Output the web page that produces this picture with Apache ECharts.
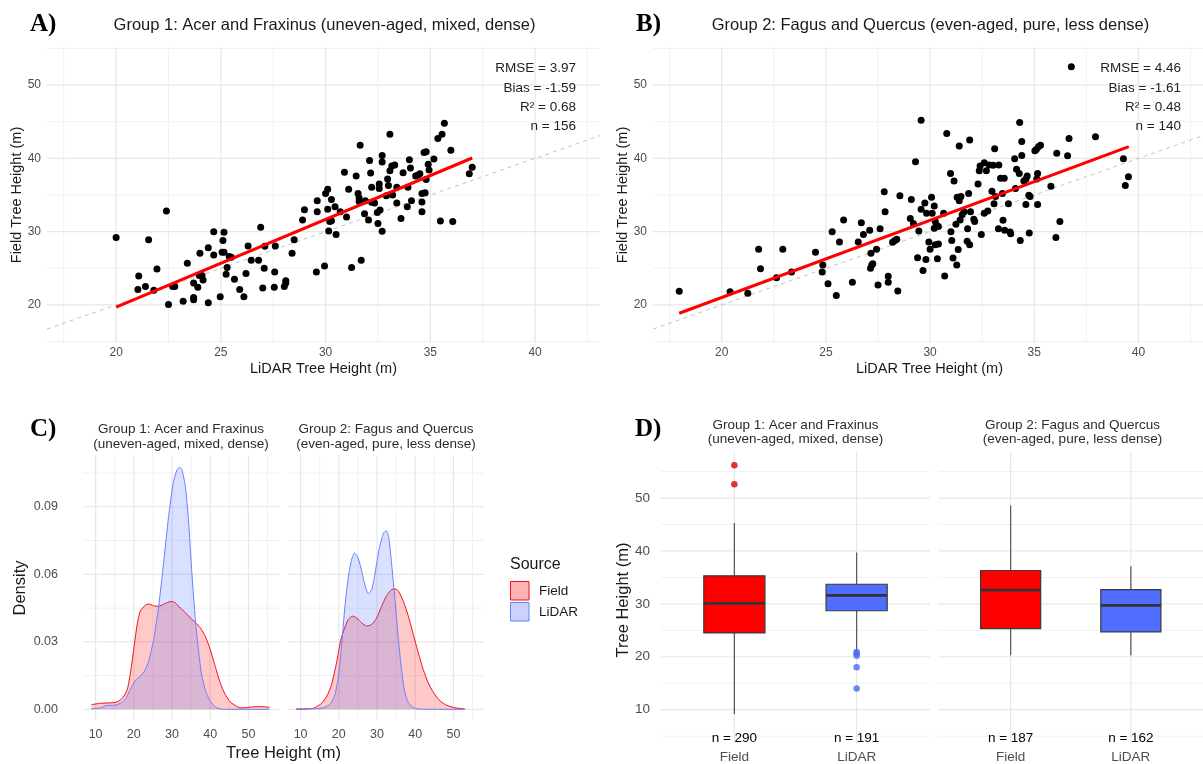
<!DOCTYPE html>
<html><head><meta charset="utf-8">
<script src="https://cdn.jsdelivr.net/npm/echarts@6/dist/echarts.min.js"></script>
<style>html,body{margin:0;padding:0;background:#fff}#c{width:1203px;height:764px}</style>
</head><body><div id="c"></div>
<script>
// ---------------- DATA ----------------
const sourceNames = ['Field', 'LiDAR'];
const groupTitles = ['Group 1: Acer and Fraxinus (uneven-aged, mixed, dense)', 'Group 2: Fagus and Quercus (even-aged, pure, less dense)'];
const stripLine1 = ['Group 1: Acer and Fraxinus', 'Group 2: Fagus and Quercus'];
const stripLine2 = ['(uneven-aged, mixed, dense)', '(even-aged, pure, less dense)'];

// Panel A/B scatter: [LiDAR height, Field height]
const g1Points = [[20.0,29.2],[21.08,23.95],[21.04,22.1],[21.4,22.5],[21.55,28.9],[21.8,22.0],[21.95,24.9],[22.4,32.8],[22.5,20.05],[22.7,22.5],[22.8,22.5],[23.2,20.5],[23.4,25.7],[23.7,21.0],[23.7,20.7],[23.7,23.0],[23.9,22.4],[23.97,24.0],[24.0,27.05],[24.1,24.0],[24.15,23.4],[24.4,27.8],[24.4,20.3],[24.66,30.0],[24.66,26.8],[24.97,21.1],[25.06,27.2],[25.1,28.8],[25.15,29.9],[25.15,27.2],[25.25,24.2],[25.3,25.1],[25.4,26.6],[25.5,26.5],[25.65,23.5],[25.9,22.1],[26.1,21.1],[26.2,24.3],[26.3,28.05],[26.45,26.1],[26.8,26.1],[26.9,30.6],[27.0,22.3],[27.07,25.0],[27.1,28.0],[27.55,22.4],[27.57,24.5],[27.6,28.05],[28.03,22.5],[28.1,23.3],[28.1,23.0],[28.4,27.05],[28.5,28.9],[28.9,31.6],[28.99,33.0],[29.56,24.5],[29.6,34.2],[29.6,32.7],[29.95,25.3],[30.0,35.2],[30.1,33.05],[30.1,35.8],[30.15,30.1],[30.2,31.4],[30.28,31.5],[30.28,34.4],[30.45,33.4],[30.5,29.6],[30.7,32.7],[30.9,38.1],[31.0,32.0],[31.1,35.8],[31.24,25.1],[31.46,37.6],[31.55,35.2],[31.6,34.6],[31.6,34.1],[31.65,41.8],[31.7,26.1],[31.86,32.45],[31.9,34.2],[32.05,31.6],[32.1,39.7],[32.15,38.0],[32.2,36.05],[32.2,34.0],[32.34,33.9],[32.47,32.6],[32.5,31.1],[32.56,36.5],[32.56,35.9],[32.6,32.95],[32.7,40.4],[32.7,39.5],[32.7,30.05],[32.9,34.9],[32.96,37.2],[33.0,36.3],[33.07,43.3],[33.07,38.3],[33.16,38.95],[33.2,35.0],[33.3,39.1],[33.4,33.9],[33.4,36.05],[33.6,31.8],[33.7,38.05],[33.9,33.4],[33.93,36.05],[34.0,39.8],[34.05,38.7],[34.1,34.2],[34.3,37.6],[34.4,37.7],[34.5,37.9],[34.6,34.05],[34.6,32.7],[34.6,35.2],[34.7,40.8],[34.75,35.3],[34.8,40.9],[34.8,37.1],[34.9,39.2],[34.94,38.4],[35.17,39.9],[35.36,42.7],[35.48,31.45],[35.56,43.3],[35.67,44.8],[35.98,41.1],[36.07,31.4],[36.86,37.9],[37.0,38.8]];
const g2Points = [[17.96,21.86],[20.4,21.8],[21.25,21.6],[21.77,27.6],[21.86,24.95],[22.63,23.7],[22.93,27.6],[23.35,24.5],[24.5,27.2],[24.85,25.45],[24.82,24.5],[25.1,22.9],[25.3,30.0],[25.5,21.3],[25.65,28.6],[25.85,31.6],[26.27,23.1],[26.55,28.6],[26.7,31.2],[26.8,29.6],[27.1,30.2],[27.16,27.05],[27.14,25.0],[27.2,25.45],[27.25,25.6],[27.43,27.6],[27.5,22.7],[27.6,30.4],[27.8,35.45],[27.84,32.7],[27.99,23.9],[27.99,23.1],[28.2,28.55],[28.3,28.8],[28.4,28.95],[28.45,21.9],[28.55,34.9],[29.05,31.8],[29.1,34.4],[29.2,31.1],[29.3,39.55],[29.4,26.45],[29.46,30.1],[29.57,45.2],[29.57,33.05],[29.66,24.7],[29.75,33.9],[29.8,26.2],[29.83,32.5],[29.94,28.6],[30.0,27.6],[30.07,34.7],[30.1,32.5],[30.2,33.5],[30.2,30.45],[30.25,28.2],[30.25,31.4],[30.3,30.9],[30.35,26.3],[30.4,28.3],[30.4,30.7],[30.65,32.5],[30.7,23.95],[30.8,43.4],[30.98,37.95],[31.0,30.0],[31.04,28.8],[31.1,26.4],[31.15,36.9],[31.24,31.0],[31.28,25.45],[31.3,34.7],[31.35,27.55],[31.4,34.2],[31.4,41.7],[31.44,31.6],[31.48,34.8],[31.54,32.3],[31.63,32.7],[31.78,28.7],[31.8,30.4],[31.85,35.2],[31.9,28.2],[31.9,42.5],[31.94,32.7],[32.1,31.7],[32.14,31.4],[32.3,36.5],[32.36,38.3],[32.4,38.95],[32.46,29.6],[32.6,39.4],[32.6,32.5],[32.7,38.3],[32.77,32.8],[32.84,39.1],[32.97,35.5],[33.03,39.05],[33.07,33.8],[33.1,41.3],[33.14,34.8],[33.28,30.4],[33.3,39.1],[33.38,37.3],[33.47,35.2],[33.5,31.55],[33.56,37.3],[33.58,30.2],[33.76,33.8],[33.84,29.95],[33.87,29.7],[34.06,39.95],[34.1,35.9],[34.15,38.5],[34.28,37.95],[34.3,44.9],[34.33,28.8],[34.4,42.3],[34.4,40.4],[34.5,36.9],[34.6,37.2],[34.6,33.7],[34.66,37.6],[34.74,34.95],[34.76,29.8],[34.8,34.8],[35.03,41.05],[35.1,41.2],[35.12,37.2],[35.16,37.95],[35.16,33.7],[35.2,41.6],[35.3,41.8],[35.8,36.2],[36.04,29.2],[36.08,40.7],[36.23,31.4],[36.6,40.35],[36.67,42.7],[36.78,52.5],[37.94,42.95],[39.28,39.95],[39.37,36.3],[39.52,37.5]];
const g1Fit = [[20.0,19.7],[37.0,40.05]];
const g2Fit = [[17.96,18.86],[39.54,41.6]];
const g1Stats = ['RMSE = 3.97', 'Bias = -1.59', 'R\u00b2 = 0.68', 'n = 156'];
const g2Stats = ['RMSE = 4.46', 'Bias = -1.61', 'R\u00b2 = 0.48', 'n = 140'];
const scatterXTicks = [20, 25, 30, 35, 40];
const scatterYTicks = [20, 30, 40, 50];

// Panel C densities: [height, density]
const g1FieldDens = [[8.9,0.0021],[11.3,0.0027],[14.8,0.003],[16.1,0.0037],[17.4,0.0059],[18.3,0.0089],[19.1,0.016],[20.0,0.027],[20.9,0.038],[21.7,0.0436],[23.0,0.0463],[23.9,0.0468],[25.2,0.046],[26.5,0.0458],[27.8,0.0467],[29.1,0.0477],[30.0,0.0479],[30.9,0.0473],[32.2,0.045],[33.5,0.043],[34.8,0.0406],[36.1,0.0387],[37.4,0.0362],[38.7,0.0325],[40.0,0.0266],[41.3,0.0192],[42.6,0.0118],[43.9,0.0067],[45.2,0.0034],[46.5,0.0018],[47.8,0.0007],[49.1,0.0007],[50.4,0.001],[52.2,0.0012],[53.9,0.0012],[55.5,0.0009]];
const g1LidarDens = [[8.9,0.0003],[11.3,0.0007],[13.0,0.0018],[14.8,0.0018],[16.5,0.0027],[17.8,0.0044],[19.1,0.0089],[20.4,0.0129],[21.7,0.0148],[22.8,0.017],[23.9,0.0214],[25.2,0.031],[26.5,0.0458],[27.8,0.065],[29.1,0.0857],[30.3,0.1005],[31.3,0.1064],[32.0,0.1075],[32.6,0.1064],[33.5,0.099],[34.3,0.0842],[35.2,0.0606],[36.1,0.04],[37.0,0.0251],[37.8,0.0148],[39.1,0.0067],[40.4,0.0027],[41.7,0.0007],[43.0,0.0001],[48.0,0.0],[55.5,0.0]];
const g2FieldDens = [[8.9,0.0],[12.9,0.0003],[14.2,0.0012],[15.5,0.0027],[16.8,0.0056],[18.1,0.011],[19.4,0.0207],[20.5,0.0307],[21.4,0.0355],[22.5,0.04],[23.6,0.0414],[24.7,0.0406],[26.0,0.0384],[27.3,0.037],[28.6,0.0377],[29.9,0.0406],[31.2,0.0458],[32.5,0.0505],[33.8,0.0532],[34.7,0.0535],[35.6,0.0525],[36.9,0.048],[38.2,0.0414],[39.5,0.0333],[40.8,0.0251],[42.1,0.0177],[43.4,0.0118],[44.8,0.0074],[46.5,0.0037],[48.3,0.0018],[50.4,0.0007],[53.0,0.0002]];
const g2LidarDens = [[8.9,0.0003],[13.3,0.0003],[15.9,0.0007],[17.7,0.0022],[19.0,0.0067],[19.9,0.0148],[20.7,0.028],[21.6,0.0458],[22.5,0.059],[23.4,0.0668],[24.1,0.0695],[24.9,0.068],[25.8,0.0628],[26.7,0.0562],[27.7,0.0514],[28.6,0.0532],[29.5,0.0606],[30.5,0.0709],[31.7,0.0783],[32.4,0.0794],[33.1,0.0761],[33.8,0.065],[34.7,0.0488],[35.6,0.031],[36.5,0.0163],[37.3,0.0074],[38.2,0.003],[39.5,0.0007],[41.3,0.0001],[53.0,0.0]];
const densityXTicks = [10, 20, 30, 40, 50];
const densityYTicks = [0, 0.03, 0.06, 0.09];

// Panel D boxplots: [lower whisker, Q1, median, Q3, upper whisker] for Field, LiDAR
const g1Boxes = [[9.2, 24.5, 30.1, 35.3, 45.3], [21.3, 28.7, 31.6, 33.7, 39.7]];
const g2Boxes = [[20.3, 25.3, 32.6, 36.3, 48.6], [20.3, 24.7, 29.7, 32.7, 37.1]];
const g1FieldOutliers = [56.2, 52.6];
const g1LidarOutliers = [20.9, 20.6, 20.2, 18.0, 14.0];
const g2FieldOutliers = [];
const g2LidarOutliers = [];
const g1Counts = [290, 191];
const g2Counts = [187, 162];
const countLabelY = 5;
const boxYTicks = [10, 20, 30, 40, 50];

// ---------------- STYLE / LAYOUT ----------------
const FONT = "'Liberation Sans', Arial, sans-serif";
const SERIF = "'Liberation Serif', 'Times New Roman', serif";
const RED = '#FF0000', BLUE = '#4F6EFF';
const sourceColors = [RED, BLUE];
const SX = [16.7, 43.1], SY = [14.8, 55.2];
const DX = [6.7, 58.0], DY = [-0.0045, 0.113];
const BX = [-0.6, 1.6], BY = [3.7, 58.7];

const grids = [
  {left: 47, top: 47, width: 553, height: 296},      // A
  {left: 653, top: 47, width: 553, height: 296},     // B
  {left: 83, top: 455, width: 196, height: 264.5},   // C1
  {left: 288, top: 455, width: 196, height: 264.5},  // C2
  {left: 661, top: 452, width: 269, height: 297},    // D1
  {left: 938.5, top: 452, width: 268, height: 297}   // D2
];

function inTicks(ticks, v) { return ticks.some(t => Math.abs(t - v) < 1e-9); }
function valAxis(gi, range, ticks, fmt, fs, margin, show) {
  return {
    type: 'value', gridIndex: gi, min: range[0], max: range[1],
    axisLine: {show: false}, axisTick: {show: false}, splitLine: {show: false},
    axisLabel: {show: show, customValues: ticks, formatter: v => inTicks(ticks, v) ? fmt(v) : '',
      color: '#4d4d4d', fontSize: fs, fontFamily: FONT, margin: margin, hideOverlap: false}
  };
}
function minorsOf(ticks, range) {
  const s = ticks[1] - ticks[0];
  const out = ticks.map(t => t - s / 2).concat([ticks[ticks.length - 1] + s / 2]);
  return out.filter(v => v >= range[0] && v <= range[1]);
}
function gridSeries(gi, xr, yr, xMaj, xMin, yMaj, yMin) {
  const out = [];
  const mk = (pts, minor) => ({
    type: 'line', xAxisIndex: gi, yAxisIndex: gi, data: pts, symbol: 'none', silent: true, z: 0,
    animation: false, lineStyle: {color: minor ? '#f1f1f1' : '#e7e7e7', width: minor ? 1 : 1.2}
  });
  xMin.forEach(v => out.push(mk([[v, yr[0]], [v, yr[1]]], true)));
  yMin.forEach(v => out.push(mk([[xr[0], v], [xr[1], v]], true)));
  xMaj.forEach(v => out.push(mk([[v, yr[0]], [v, yr[1]]], false)));
  yMaj.forEach(v => out.push(mk([[xr[0], v], [xr[1], v]], false)));
  return out;
}

const xAxes = [], yAxes = [], series = [];
// A, B
[0, 1].forEach(gi => {
  xAxes.push(valAxis(gi, SX, scatterXTicks, v => String(v), 12, 4, true));
  yAxes.push(valAxis(gi, SY, scatterYTicks, v => String(v), 12, 6, true));
  series.push(...gridSeries(gi, SX, SY, scatterXTicks, minorsOf(scatterXTicks, SX), scatterYTicks, minorsOf(scatterYTicks, SY)));
  series.push({type: 'line', name: 'identity', xAxisIndex: gi, yAxisIndex: gi, data: [[SX[0], SX[0]], [SX[1], SX[1]]],
    symbol: 'none', silent: true, z: 2, lineStyle: {color: '#c4c4c4', width: 1, type: [4, 4]}});
  series.push({type: 'scatter', name: 'points', xAxisIndex: gi, yAxisIndex: gi, data: gi === 0 ? g1Points : g2Points,
    symbolSize: 7, itemStyle: {color: '#000', opacity: 1}, z: 3});
  series.push({type: 'line', name: 'fit', xAxisIndex: gi, yAxisIndex: gi, data: gi === 0 ? g1Fit : g2Fit,
    symbol: 'none', z: 4, lineStyle: {color: RED, width: 3}});
});
// C
[2, 3].forEach((gi, k) => {
  xAxes.push(valAxis(gi, DX, densityXTicks, v => String(v), 12.5, 9, true));
  yAxes.push(valAxis(gi, DY, densityYTicks, v => v.toFixed(2), 12.5, 25, k === 0));
  series.push(...gridSeries(gi, DX, DY, densityXTicks, minorsOf(densityXTicks, DX), densityYTicks, minorsOf(densityYTicks, DY)));
  const dens = k === 0 ? [g1FieldDens, g1LidarDens] : [g2FieldDens, g2LidarDens];
  dens.forEach((d, si) => {
    series.push({type: 'line', name: sourceNames[si], xAxisIndex: gi, yAxisIndex: gi, data: d, symbol: 'none',
      smooth: 0.2, z: 2 + si, silent: true,
      lineStyle: {color: si === 0 ? '#F01020' : '#6A80FF', width: 1},
      areaStyle: {color: si === 0 ? 'rgba(255,0,0,0.3)' : 'rgba(79,110,255,0.3)', origin: 0}});
  });
});
// D
function renderBox(params, api) {
  const x = api.value(0);
  const lo = api.coord([x, api.value(1)]);
  const q1 = api.coord([x, api.value(2)]);
  const md = api.coord([x, api.value(3)]);
  const q3 = api.coord([x, api.value(4)]);
  const hi = api.coord([x, api.value(5)]);
  const w = api.size([0.5, 0])[0];
  const col = sourceColors[x];
  const wl = {stroke: '#555', lineWidth: 1.2};
  return {type: 'group', children: [
    {type: 'line', shape: {x1: lo[0], y1: lo[1], x2: q1[0], y2: q1[1]}, style: wl},
    {type: 'line', shape: {x1: q3[0], y1: q3[1], x2: hi[0], y2: hi[1]}, style: wl},
    {type: 'rect', shape: {x: q1[0] - w / 2, y: q3[1], width: w, height: q1[1] - q3[1]}, style: {fill: col, stroke: '#3a3a3a', lineWidth: 1.2}},
    {type: 'line', shape: {x1: q1[0] - w / 2, y1: md[1], x2: q1[0] + w / 2, y2: md[1]}, style: {stroke: '#333', lineWidth: 2.8}}
  ]};
}
function renderCount(params, api) {
  const p = api.coord([api.value(0), api.value(1)]);
  return {type: 'text', x: p[0], y: p[1] + 2, style: {text: 'n = ' + api.value(2), fill: '#000',
    font: '13.5px ' + FONT, textAlign: 'center', textVerticalAlign: 'middle', align: 'center', verticalAlign: 'middle'}};
}
[4, 5].forEach((gi, k) => {
  xAxes.push(valAxis(gi, BX, [0, 1], v => sourceNames[v], 13.5, 7, true));
  yAxes.push(valAxis(gi, BY, boxYTicks, v => String(v), 13.5, 11, k === 0));
  series.push(...gridSeries(gi, BX, BY, [0, 1], [], boxYTicks, minorsOf(boxYTicks, BY)));
  const boxes = k === 0 ? g1Boxes : g2Boxes;
  series.push({type: 'custom', name: 'box', xAxisIndex: gi, yAxisIndex: gi, renderItem: renderBox, silent: true, z: 3,
    data: boxes.map((b, i) => [i].concat(b))});
  const outs = k === 0 ? [g1FieldOutliers, g1LidarOutliers] : [g2FieldOutliers, g2LidarOutliers];
  outs.forEach((o, i) => {
    series.push({type: 'scatter', name: 'outliers', xAxisIndex: gi, yAxisIndex: gi, data: o.map(v => [i, v]),
      symbolSize: 6.5, itemStyle: {color: i === 0 ? '#E00000' : '#4A6AF0'}, z: 4, silent: true});
  });
  const counts = k === 0 ? g1Counts : g2Counts;
  series.push({type: 'custom', name: 'counts', xAxisIndex: gi, yAxisIndex: gi, renderItem: renderCount, silent: true, z: 5,
    data: counts.map((n, i) => [i, countLabelY, n])});
});

// ---------------- TEXT (graphic) ----------------
function txt(x, y, text, size, o) {
  o = o || {};
  return {type: 'text', x: x, y: y, rotation: o.rot || 0, silent: true, z: 10,
    style: {text: text, fill: o.color || '#1a1a1a', font: (o.weight || 'normal') + ' ' + size + 'px ' + (o.family || FONT),
      textAlign: o.align || 'center', textVerticalAlign: 'middle', align: o.align || 'center', verticalAlign: 'middle'}};
}
const cx = g => g.left + g.width / 2;
const graphics = [];
// panel letters
[['A)', 30, 25], ['B)', 636, 25], ['C)', 30, 430], ['D)', 635, 430]].forEach(a =>
  graphics.push(txt(a[1], a[2], a[0], 25, {weight: 'bold', family: SERIF, align: 'left', color: '#000'})));
// A/B
[0, 1].forEach(gi => {
  const g = grids[gi];
  graphics.push(txt(cx(g) + 1, 25, groupTitles[gi], 16.5));
  graphics.push(txt(cx(g), 369, 'LiDAR Tree Height (m)', 14.5));
  graphics.push(txt(gi === 0 ? 17 : 623, 195, 'Field Tree Height (m)', 14.5, {rot: Math.PI / 2}));
  const st = gi === 0 ? g1Stats : g2Stats;
  st.forEach((s, i) => graphics.push(txt(gi === 0 ? 576 : 1181, 68.5 + i * 19.4, s, 13.5, {align: 'right', color: '#222'})));
});
// C
[2, 3].forEach((gi, k) => {
  graphics.push(txt(cx(grids[gi]), 429.5, stripLine1[k], 13.5, {color: '#2b2b2b'}));
  graphics.push(txt(cx(grids[gi]), 444, stripLine2[k], 13.5, {color: '#2b2b2b'}));
});
graphics.push(txt(20, 588, 'Density', 16.5, {rot: Math.PI / 2}));
graphics.push(txt((grids[2].left + grids[3].left + grids[3].width) / 2, 753, 'Tree Height (m)', 16.5));
// legend
graphics.push(txt(510, 565, 'Source', 16, {align: 'left'}));
sourceNames.forEach((nm, i) => {
  graphics.push({type: 'rect', silent: true, z: 10, shape: {x: 510.5, y: 581.5 + i * 21, width: 18.5, height: 18.5},
    style: {fill: i === 0 ? 'rgba(255,0,0,0.3)' : 'rgba(79,110,255,0.3)', stroke: i === 0 ? '#F01020' : '#6A80FF', lineWidth: 1}});
  graphics.push(txt(539, 591 + i * 21, nm, 13.5, {align: 'left'}));
});
// D
[4, 5].forEach((gi, k) => {
  graphics.push(txt(cx(grids[gi]), 425, stripLine1[k], 13.5, {color: '#2b2b2b'}));
  graphics.push(txt(cx(grids[gi]), 439.5, stripLine2[k], 13.5, {color: '#2b2b2b'}));
});
graphics.push(txt(623, 600, 'Tree Height (m)', 16.5, {rot: Math.PI / 2}));

const chart = echarts.init(document.getElementById('c'), null, {renderer: 'canvas'});
chart.setOption({
  animation: false,
  backgroundColor: '#fff',
  textStyle: {fontFamily: FONT},
  grid: grids,
  xAxis: xAxes,
  yAxis: yAxes,
  series: series,
  graphic: graphics
});
</script></body></html>
